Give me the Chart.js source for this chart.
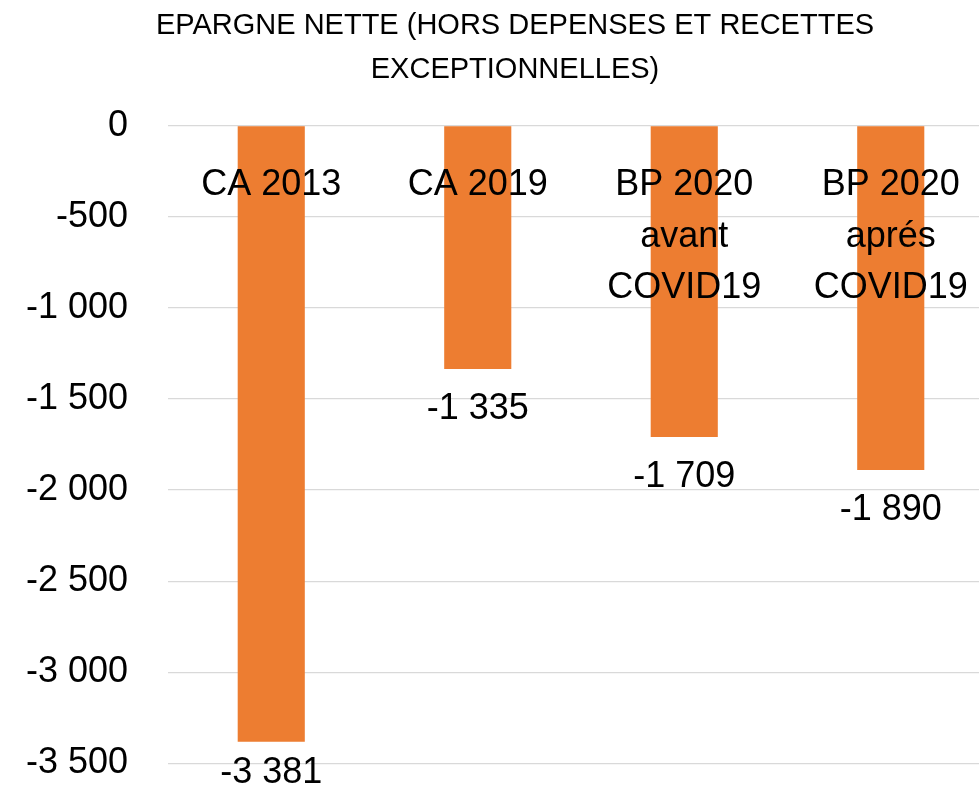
<!DOCTYPE html>
<html>
<head>
<meta charset="utf-8">
<title>Epargne nette</title>
<script src="https://cdn.jsdelivr.net/npm/chart.js@4/dist/chart.umd.min.js"></script>
<style>
  html, body { margin: 0; padding: 0; background: #fff; overflow: hidden; }
  canvas { display: block; }
</style>
</head>
<body>
<canvas id="epargneChart" width="1030" height="790"></canvas>
<script>
const titleLines = ['EPARGNE NETTE (HORS DEPENSES ET RECETTES', 'EXCEPTIONNELLES)'];
const categories = ['CA 2013', 'CA 2019', ['BP 2020', 'avant', 'COVID19'], ['BP 2020', 'aprés', 'COVID19']];
const values = [-3381, -1335, -1709, -1890];
const yTicks = [0, -500, -1000, -1500, -2000, -2500, -3000, -3500];

const FONT = '"Liberation Sans", Arial, sans-serif';

// "-1 000" style, space as thousands separator
function fmt(v) {
    const s = Math.abs(v).toString().replace(/\B(?=(\d{3})+(?!\d))/g, ' ');
    return (v < 0 ? '-' : '') + s;
}

const barLabels = {
    id: 'barLabels',
    afterDatasetsDraw(chart) {
        const ctx = chart.ctx;
        const meta = chart.getDatasetMeta(0);
        ctx.save();
        ctx.font = '36px ' + FONT;
        ctx.fillStyle = '#000';
        ctx.textAlign = 'center';
        ctx.textBaseline = 'middle';
        meta.data.forEach((bar, i) => {
            // keep the label inside the picture, like the original does
            const y = Math.min(bar.y + 40, chart.height - 17);
            ctx.fillText(fmt(values[i]), bar.x, y);
        });
        ctx.restore();
    }
};

const ctx = document.getElementById('epargneChart').getContext('2d');
const epargneChart = new Chart(ctx, {
    type: 'bar',
    data: {
        labels: categories,
        datasets: [{
            data: values,
            backgroundColor: '#ED7D31',
            borderWidth: 0,
            barPercentage: 0.325,
            categoryPercentage: 1
        }]
    },
    options: {
        responsive: false,
        animation: false,
        devicePixelRatio: 1,
        layout: { padding: { left: 0, right: 0, top: 0, bottom: 26.5 } },
        plugins: {
            legend: { display: false },
            tooltip: { enabled: false },
            title: {
                display: true,
                text: titleLines,
                color: '#000',
                font: { family: FONT, size: 29, weight: 'normal', lineHeight: 1.51 },
                padding: { top: 4, bottom: 34 }
            }
        },
        scales: {
            x: {
                position: { y: 0 },
                afterFit: (scale) => {
                    scale.height = 0;
                },
                grid: { display: false, drawTicks: false },
                border: { display: false },
                ticks: {
                    z: 1,
                    color: '#000',
                    font: { family: FONT, size: 36, lineHeight: 1.43 },
                    padding: 34,
                    maxRotation: 0,
                    autoSkip: false
                }
            },
            y: {
                min: -3500,
                max: 0,
                afterBuildTicks: (scale) => {
                    scale.ticks = yTicks.map(v => ({ value: v }));
                },
                afterFit: (scale) => {
                    scale.width = 168;
                    scale.paddingTop = 0;
                    scale.paddingBottom = 0;
                },
                grid: { color: '#D9D9D9', lineWidth: 1.3, drawTicks: false },
                border: { display: false },
                ticks: {
                    color: '#000',
                    font: { family: FONT, size: 36 },
                    padding: 40,
                    callback: (v) => fmt(v)
                }
            },
            // empty strip on the right, the picture is cut before the chart's edge
            yRight: {
                position: 'right',
                grid: { display: false, drawTicks: false },
                border: { display: false },
                ticks: { display: false },
                afterFit: (scale) => {
                    scale.width = 36;
                }
            }
        }
    },
    plugins: [barLabels]
});
</script>
</body>
</html>
